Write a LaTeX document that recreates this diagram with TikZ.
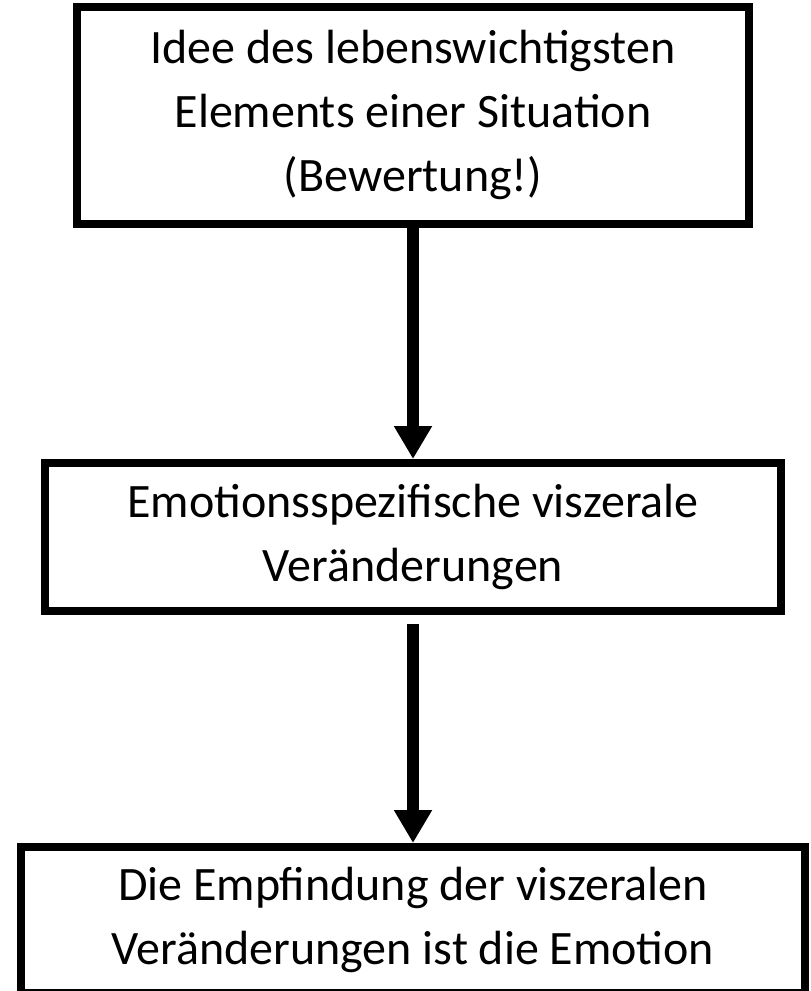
\documentclass[tikz,border=0pt]{standalone}
\usepackage{fontspec}
\setmainfont{Carlito}
\usetikzlibrary{arrows.meta}
\begin{document}
\begin{tikzpicture}[x=1pt,y=-1pt,
  flowbox/.style={draw=black, line width=8pt, fill=white, align=center,
    inner sep=0pt, font=\fontsize{48}{64}\selectfont},
  flowarrow/.style={line width=12pt, -{Triangle[width=36pt 0 0, length=33pt 0 0]}}]
\useasboundingbox (0,0) rectangle (811,991);
\node[flowbox, minimum width=672pt, minimum height=217.5pt] (b1) at (413,115.25)
  {Idee des lebenswichtigsten\\Elements einer Situation\\(Bewertung!)};
\node[flowbox, minimum width=736pt, minimum height=147.5pt] (b2) at (413,536.75)
  {Emotionsspezifische viszerale\\Veränderungen};
\node[flowbox, minimum width=784pt, minimum height=146pt] (b3) at (413,920)
  {Die Empfindung der viszeralen\\Veränderungen ist die Emotion};
\draw[flowarrow] (b1.south) -- (b2.north);
\draw[flowarrow, shorten <=9pt] (b2.south) -- (b3.north);
\end{tikzpicture}
\end{document}
